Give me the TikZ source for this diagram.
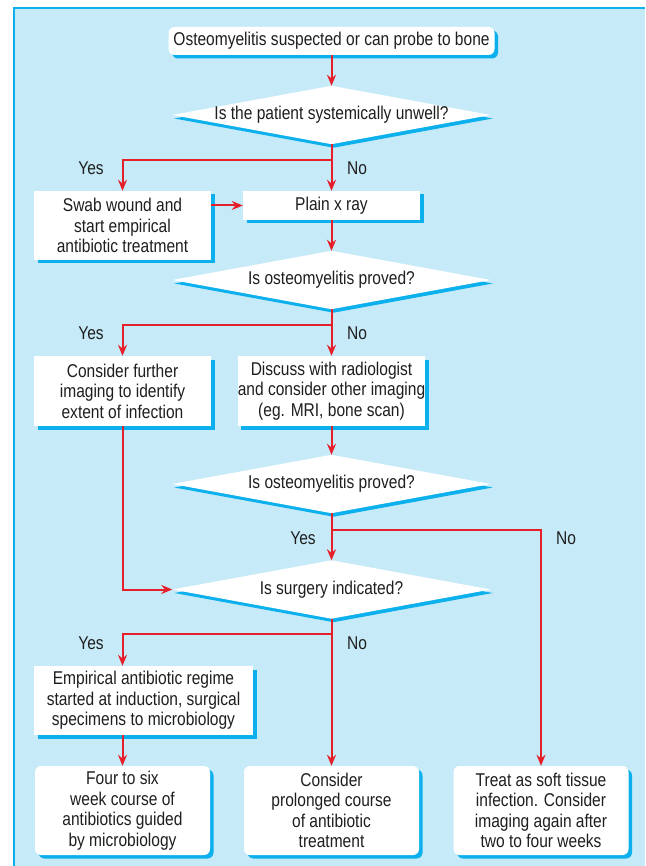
\documentclass[tikz,border=0pt]{standalone}
\usepackage{fontspec}
\setmainfont{Liberation Sans}[FakeStretch=0.84]
\usetikzlibrary{arrows.meta,shadows,backgrounds}
\definecolor{panelblue}{HTML}{C7EAF9}
\definecolor{shadowcyan}{HTML}{0CB0EC}
\definecolor{arrowred}{HTML}{E5202B}
\definecolor{inkgrey}{HTML}{1E1E1E}

\begin{document}
\begin{tikzpicture}[x=1pt,y=-1pt,
  every node/.style={font=\fontsize{18.5}{20.5}\selectfont,text=inkgrey,align=center,inner sep=0pt},
  shad/.style={drop shadow={shadow xshift=3.5pt,shadow yshift=-3.5pt,fill=shadowcyan,opacity=1}},
  box/.style={fill=white,shad,minimum width=177pt},
  rbox/.style={box,rounded corners=6pt,minimum width=175pt},
  test/.style={minimum width=318pt,minimum height=58pt},
  diam/.style={fill=white,drop shadow={shadow xshift=2pt,shadow yshift=-3.5pt,fill=shadowcyan,opacity=1}},
  arr/.style={draw=arrowred,line width=2pt,-{Stealth[length=11pt,width=9pt]}}]
\useasboundingbox (0,0) rectangle (645,866);
\begin{scope}[on background layer]
\fill[panelblue] (14,8) rectangle (645,866);
\draw[shadowcyan,line width=1.5pt] (14,866) -- (14,8) -- (645,8);
\end{scope}

\node[rbox,minimum width=326pt,minimum height=28pt] (start) at (331.5,41) {Osteomyelitis suspected or can probe to bone};
\node[test] (q1) at (331.5,115) {Is the patient systemically unwell?};
\node[box,minimum height=69pt] (swab) at (122.5,225.5) {Swab wound and\\start empirical\\antibiotic treatment};
\node[box,minimum height=29pt] (plain) at (331.5,205.5) {Plain x ray};
\node[test] (q2) at (331.5,280) {Is osteomyelitis proved?};
\node[box,minimum height=70pt] (further) at (122.5,391) {Consider further\\imaging to identify\\extent of infection};
\node[box,minimum height=70pt] (discuss) at (331.5,391) {Discuss with radiologist\\and consider other imaging\\(eg. MRI, bone scan)};
\node[test] (q3) at (331.5,484) {Is osteomyelitis proved?};
\node[test] (q4) at (331.5,589.5) {Is surgery indicated?};
\node[box,minimum width=219pt,minimum height=69pt] (empir) at (143.5,700.5) {Empirical antibiotic regime\\started at induction, surgical\\specimens to microbiology};
\node[rbox,minimum height=89pt] (four) at (122.5,810.5) {Four to six\\week course of\\antibiotics guided\\by microbiology};
\node[rbox,minimum height=89pt] (prolong) at (331.5,810.5) {Consider\\prolonged course\\of antibiotic\\treatment};
\node[rbox,minimum height=89pt] (treat) at (541,810.5) {Treat as soft tissue\\infection. Consider\\imaging again after\\two to four weeks};

\begin{scope}[on background layer]
\foreach \q in {q1,q2,q3,q4}
  \path[diam] (\q.west) -- (\q.north) -- (\q.east) -- (\q.south) -- cycle;
\end{scope}

\foreach \n/\x/\y/\t in {y1/91/168/Yes, n1/357/168/No, y2/91/333/Yes, n2/357/333/No,
  y3/303/538/Yes, n3/566/538/No, y4/91/643/Yes, n4/357/643/No}
  \node (\n) at (\x,\y) {\t};

\coordinate (b1) at (331.5,160);
\coordinate (b2) at (331.5,325);
\coordinate (b3) at (331.5,530);
\coordinate (b4) at (331.5,634);

\draw[arr] (start.south) -- (q1.north);
\draw[arr] (q1.south) -- (plain.north);
\draw[arr] (b1) -| (swab.north);
\draw[arr] (swab.east |- plain.west) -- (plain.west);
\draw[arr] (plain.south) -- (q2.north);
\draw[arr] (q2.south) -- (discuss.north);
\draw[arr] (b2) -| (further.north);
\draw[arr] (discuss.south) -- (q3.north);
\draw[arr] (q3.south) -- (q4.north);
\draw[arr] (b3) -| (treat.north);
\draw[arr] (further.south) |- (q4.west);
\draw[arr] (q4.south) -- (prolong.north);
\draw[arr] (b4) -| (empir.north -| four.north);
\draw[arr] (empir.south -| four.north) -- (four.north);
\end{tikzpicture}
\end{document}
